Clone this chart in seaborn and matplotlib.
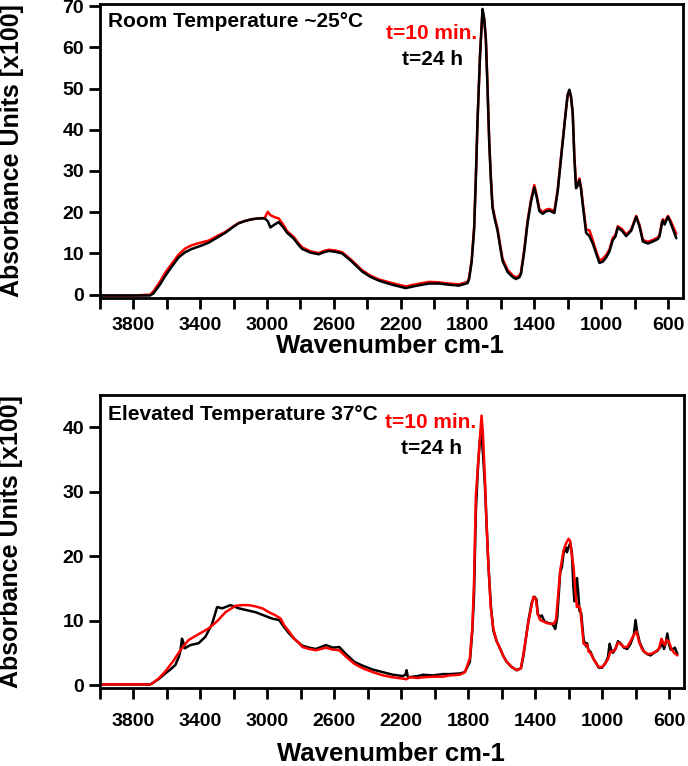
import matplotlib
matplotlib.use("Agg")
import matplotlib.pyplot as plt
import seaborn as sns

sns.set_theme(style="ticks")
plt.rcParams['font.family'] = ['Liberation Sans', 'DejaVu Sans']
plt.rcParams['font.weight'] = 'bold'
plt.rcParams['text.color'] = 'black'
plt.rcParams['axes.labelcolor'] = 'black'
plt.rcParams['xtick.color'] = 'black'
plt.rcParams['ytick.color'] = 'black'

# Room temperature spectra (shared wavenumber grid)
wn_rt = [4000, 3900, 3800, 3700, 3680, 3640, 3610, 3570, 3530, 3490,
         3450, 3400, 3350, 3300, 3250, 3200, 3170, 3130, 3090, 3050,
         3014, 2995, 2980, 2955, 2930, 2900, 2880, 2840, 2810, 2790,
         2740, 2690, 2660, 2630, 2590, 2550, 2500, 2430, 2380, 2330,
         2250, 2170, 2100, 2030, 1970, 1910, 1850, 1800, 1790, 1775,
         1760, 1750, 1740, 1725, 1710, 1700, 1690, 1680, 1670, 1660,
         1650, 1635, 1620, 1600, 1590, 1560, 1530, 1510, 1490, 1480,
         1460, 1440, 1420, 1400, 1385, 1370, 1350, 1330, 1310, 1290,
         1280, 1260, 1240, 1225, 1210, 1200, 1190, 1180, 1170, 1160,
         1150, 1140, 1130, 1120, 1110, 1090, 1070, 1050, 1030, 1010,
         990, 970, 950, 930, 915, 900, 875, 850, 820, 790,
         770, 750, 720, 690, 660, 650, 635, 630, 620, 610,
         600, 585, 570, 550]
abs_rt_24h = [-0.2, -0.2, -0.2, -0.2, 0.3, 2.5, 4.5, 6.8, 9.0, 10.3,
              11.1, 11.8, 12.6, 13.8, 15.0, 16.5, 17.3, 17.9, 18.3, 18.5,
              18.5, 17.8, 16.3, 17.0, 17.6, 16.2, 15.0, 13.6, 12.0, 11.1,
              10.2, 9.8, 10.3, 10.6, 10.4, 10.0, 8.3, 5.6, 4.3, 3.4,
              2.4, 1.6, 2.2, 2.7, 2.7, 2.4, 2.2, 2.8, 3.8, 8.0,
              16, 28, 42, 58, 69.3, 67, 62, 50, 37, 28,
              21, 18, 15.5, 10.5, 8.2, 5.5, 4.3, 3.8, 4.2, 5.0,
              10.5, 17.5, 22.5, 26.0, 23.5, 20.3, 19.6, 20.2, 20.4, 20.0,
              19.8, 25, 33, 39, 45, 48.5, 49.7, 48, 44, 33,
              25.8, 26.5, 27.8, 25.5, 21.8, 15.0, 14.2, 12.4, 10.0, 7.7,
              8.0, 9.0, 10.5, 13.3, 14.0, 16.3, 15.5, 14.2, 15.5, 18.9,
              16.5, 12.9, 12.4, 12.9, 13.5, 14.2, 17.5, 18.0, 17.0, 18.0,
              18.9, 17.5, 15.9, 13.7]
abs_rt_10min = [-0.2, -0.2, -0.2, 0.0, 0.8, 3.2, 5.3, 7.5, 9.7, 11.2,
                12.0, 12.6, 13.1, 14.2, 15.2, 16.6, 17.4, 17.9, 18.3, 18.5,
                18.6, 20.1, 19.3, 18.8, 18.5, 16.8, 15.4, 14.0, 12.4, 11.5,
                10.5, 10.1, 10.6, 10.9, 10.7, 10.3, 8.6, 5.9, 4.6, 3.7,
                2.8, 2.0, 2.6, 3.1, 3.0, 2.7, 2.5, 3.1, 4.2, 8.4,
                16.5, 28.5, 42, 58, 69.0, 66.8, 62, 50.5, 37.5, 28.5,
                21.5, 18.5, 16.0, 11.0, 8.7, 6.0, 4.7, 4.2, 4.6, 5.4,
                11.0, 18.0, 23.0, 26.6, 24.0, 20.8, 20.0, 20.6, 20.8, 20.4,
                20.2, 25.5, 33.5, 39.2, 45, 48.5, 49.5, 47.8, 44, 33.5,
                26.3, 27.0, 28.2, 26.0, 22.3, 15.8, 15.6, 13.2, 10.6, 8.3,
                8.7, 9.6, 11.0, 13.8, 14.4, 16.6, 15.9, 14.6, 15.8, 19.1,
                16.9, 13.3, 12.8, 13.3, 13.9, 14.6, 17.8, 18.3, 17.4, 18.3,
                19.1, 18.0, 16.6, 14.8]

# Elevated temperature spectra
wn_et_24h = [4000, 3800, 3700, 3680, 3650, 3610, 3580, 3550, 3530, 3520,
             3510, 3500, 3494, 3460, 3410, 3370, 3330, 3300, 3270, 3220,
             3170, 3120, 3070, 3020, 2970, 2930, 2900, 2870, 2840, 2810,
             2790, 2750, 2710, 2680, 2650, 2610, 2570, 2530, 2480, 2430,
             2370, 2310, 2250, 2190, 2175, 2168, 2160, 2100, 2070, 2010,
             1950, 1910, 1850, 1820, 1790, 1775, 1765, 1754, 1740, 1730,
             1722, 1712, 1700, 1690, 1680, 1665, 1650, 1630, 1610, 1590,
             1570, 1540, 1510, 1485, 1470, 1440, 1420, 1404, 1392, 1384,
             1370, 1360, 1345, 1330, 1300, 1290, 1280, 1268, 1250, 1240,
             1230, 1215, 1210, 1200, 1190, 1180, 1172, 1165, 1158, 1150,
             1143, 1135, 1125, 1110, 1095, 1090, 1080, 1070, 1050, 1020,
             1000, 980, 965, 955, 945, 935, 920, 905, 890, 870,
             850, 830, 810, 800, 792, 775, 750, 730, 710, 690,
             670, 650, 640, 630, 620, 610, 600, 590, 575, 565,
             550]
abs_et_24h = [0.1, 0.1, 0.1, 0.4, 0.9, 1.8, 2.4, 3.1, 4.3, 5.2,
              7.2, 6.5, 5.7, 6.2, 6.5, 7.5, 9.5, 12.1, 11.9, 12.4,
              11.9, 11.6, 11.3, 10.8, 10.3, 10.1, 9.0, 8.0, 7.2, 6.5,
              6.1, 5.8, 5.6, 5.9, 6.2, 5.8, 5.9, 4.8, 3.6, 3.0,
              2.4, 2.0, 1.6, 1.4, 1.6, 2.3, 1.2, 1.4, 1.6, 1.5,
              1.7, 1.7, 1.8, 2.0, 3.6, 8.5, 14, 27, 34.5, 38,
              39.7, 36, 31, 25, 19, 12.5, 8.5, 6.8, 5.7, 4.5,
              3.6, 2.8, 2.3, 2.6, 4.5, 10, 12.8, 13.7, 13.3, 11.0,
              10.6, 10.8, 9.9, 9.7, 9.5, 9.2, 8.7, 10.5, 17.5, 18.3,
              20.5, 21.3, 20.6, 21.4, 22.0, 20.5, 15.5, 13.0, 14.0, 16.6,
              14.5, 11.5, 11.2, 7.0, 6.0, 6.5, 5.3, 5.2, 4.0, 2.7,
              2.7, 3.4, 4.3, 6.4, 5.5, 5.0, 5.6, 6.8, 6.5, 5.8,
              5.6, 6.4, 7.8, 10.1, 8.5, 6.6, 5.2, 4.8, 4.6, 5.0,
              5.3, 6.0, 6.8, 5.6, 6.5, 8.0, 6.3, 5.5, 5.6, 5.8,
              4.8]
wn_et_10min = [4000, 3700, 3690, 3650, 3610, 3560, 3520, 3470, 3410, 3350,
               3300, 3250, 3190, 3150, 3110, 3070, 3030, 2990, 2950, 2920,
               2900, 2870, 2840, 2810, 2790, 2750, 2710, 2680, 2650, 2610,
               2570, 2530, 2480, 2430, 2370, 2310, 2250, 2190, 2170, 2150,
               2100, 2070, 2010, 1950, 1910, 1850, 1820, 1790, 1775, 1765,
               1754, 1740, 1728, 1720, 1712, 1700, 1690, 1680, 1665, 1650,
               1630, 1610, 1590, 1570, 1540, 1510, 1485, 1470, 1440, 1420,
               1410, 1395, 1384, 1370, 1345, 1330, 1300, 1285, 1275, 1250,
               1230, 1215, 1200, 1190, 1180, 1170, 1160, 1150, 1140, 1130,
               1120, 1110, 1090, 1080, 1070, 1050, 1020, 1000, 980, 965,
               950, 935, 920, 905, 890, 870, 850, 830, 810, 794,
               780, 760, 740, 720, 700, 680, 660, 645, 635, 625,
               615, 600, 585, 570, 550]
abs_et_10min = [0.1, 0.1, 0.2, 1.0, 2.1, 3.8, 5.4, 7.0, 7.9, 8.8,
                9.9, 11.3, 12.3, 12.4, 12.4, 12.2, 11.9, 11.3, 10.8, 10.3,
                9.3, 8.3, 7.2, 6.5, 5.9, 5.6, 5.4, 5.6, 5.8, 5.5,
                5.4, 4.4, 3.3, 2.6, 2.0, 1.5, 1.2, 1.0, 0.9, 1.2,
                1.1, 1.2, 1.3, 1.3, 1.5, 1.6, 2.0, 4.1, 9.0, 16,
                29.4, 34.6, 39, 41.8, 39, 32, 25, 19.1, 12, 8.8,
                6.8, 5.7, 4.5, 3.6, 2.8, 2.3, 2.6, 4.8, 9.8, 12.5,
                13.7, 13.3, 11.0, 10.1, 9.8, 9.6, 9.5, 9.6, 10.2, 17.8,
                20.9, 22.0, 22.7, 22.3, 20.0, 18.3, 14.5, 12.1, 12.3, 11.8,
                9.0, 6.4, 6.2, 5.2, 5.0, 4.0, 2.8, 2.8, 3.4, 4.0,
                5.2, 5.2, 5.6, 6.6, 6.4, 5.9, 5.9, 6.8, 7.8, 8.3,
                6.8, 5.5, 5.0, 4.8, 4.9, 5.2, 5.6, 7.2, 6.5, 6.2,
                7.0, 6.7, 5.6, 5.0, 4.6]

major_ticks = [3800, 3400, 3000, 2600, 2200, 1800, 1400, 1000, 600]
minor_ticks = [4000, 3600, 3200, 2800, 2400, 2000, 1600, 1200, 800]

fig = plt.figure(figsize=(6.88, 7.66), dpi=100)
ax1 = fig.add_axes([0.1453, 0.611, 0.8474, 0.3838])
ax2 = fig.add_axes([0.1453, 0.1018, 0.849, 0.3825])

# top panel: black drawn over red
sns.lineplot(x=wn_rt, y=abs_rt_10min, color="#ff0000", linewidth=1.8, sort=False, ax=ax1)
sns.lineplot(x=wn_rt, y=abs_rt_24h, color="black", linewidth=1.8, sort=False, ax=ax1)
# bottom panel: red drawn over black
sns.lineplot(x=wn_et_24h, y=abs_et_24h, color="black", linewidth=1.8, sort=False, ax=ax2)
sns.lineplot(x=wn_et_10min, y=abs_et_10min, color="#ff0000", linewidth=1.8, sort=False, ax=ax2)

ax1.set_ylim(-0.8, 70.5)
ax1.set_yticks(range(0, 71, 10))
ax2.set_ylim(-0.46, 45)
ax2.set_yticks(range(0, 41, 10))

for ax, title in [(ax1, "Room Temperature ~25°C"), (ax2, "Elevated Temperature 37°C")]:
    ax.set_xlim(4000, 510)
    ax.set_xticks(major_ticks)
    ax.set_xticks(minor_ticks, minor=True)
    ax.tick_params(axis="both", which="both", direction="out", length=8, width=2,
                   labelsize=14)
    for lab in ax.get_xticklabels() + ax.get_yticklabels():
        lab.set_fontweight("bold")
    for sp in ax.spines.values():
        sp.set_linewidth(2)
        sp.set_color("black")
    ax.set_ylabel("Absorbance Units [x100]", fontsize=18, fontweight="bold")
    ax.set_xlabel("Wavenumber cm-1", fontsize=18.5, fontweight="bold")
    ax.yaxis.set_label_coords(-0.131, 0.5)
    ax.text(0.014, 0.94 if ax is ax1 else 0.935, title, transform=ax.transAxes,
            fontsize=15, fontweight="bold", va="center", ha="left")

ax1.tick_params(axis="x", which="major", pad=6)
ax2.tick_params(axis="x", which="major", pad=10)
ax1.xaxis.set_label_coords(0.498, -0.122)
ax2.xaxis.set_label_coords(0.498, -0.184)

ax1.text(0.568, 0.901, "t=10 min.", transform=ax1.transAxes, color="#ff0000",
         fontsize=15, fontweight="bold", ha="center", va="center")
ax1.text(0.571, 0.81, "t=24 h", transform=ax1.transAxes, color="black",
         fontsize=15, fontweight="bold", ha="center", va="center")
ax2.text(0.566, 0.906, "t=10 min.", transform=ax2.transAxes, color="#ff0000",
         fontsize=15, fontweight="bold", ha="center", va="center")
ax2.text(0.568, 0.817, "t=24 h", transform=ax2.transAxes, color="black",
         fontsize=15, fontweight="bold", ha="center", va="center")

fig.savefig("out.png", dpi=100)
